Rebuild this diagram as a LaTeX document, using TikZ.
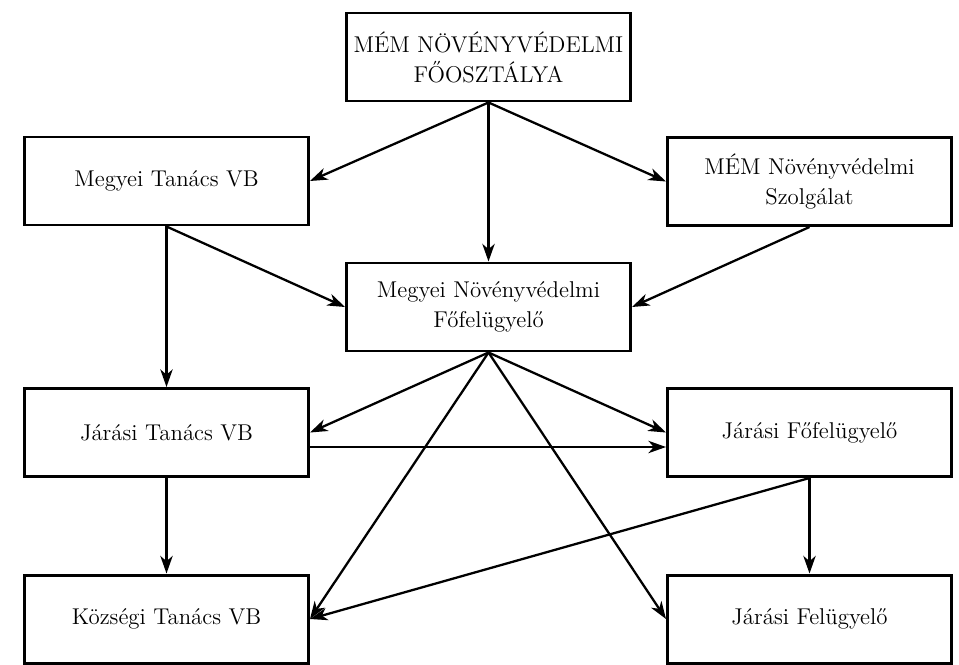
\documentclass[tikz,border=0pt]{standalone}
\usepackage{tikz}
\usetikzlibrary{arrows.meta}

\begin{document}
\begin{tikzpicture}[
    office/.style={draw=black,line width=1.7pt,minimum width=5.68cm,minimum height=1.76cm,
                   inner sep=0pt,align=center,fill=white,font=\fontsize{13}{17}\selectfont},
    link/.style={line width=1.3pt,-{Stealth[length=10pt,width=7pt,inset=3pt]}}
  ]
    \useasboundingbox (0,0) rectangle (19.18,-13.28);
    \node[office] (main) at (9.77,-1.14) {MÉM NÖVÉNYVÉDELMI\\FŐOSZTÁLYA};
    \node[office] (mtvb) at (3.33,-3.62) {Megyei Tanács VB};
    \node[office] (szolg) at (16.19,-3.63) {MÉM Növényvédelmi\\Szolgálat};
    \node[office] (mfofel) at (9.77,-6.14) {Megyei Növényvédelmi\\Főfelügyelő};
    \node[office] (jtvb) at (3.33,-8.65) {Járási Tanács VB};
    \node[office] (jfofel) at (16.19,-8.65) {Járási Főfelügyelő};
    \node[office] (ktvb) at (3.33,-12.38) {Községi Tanács VB};
    \node[office] (jfel) at (16.19,-12.38) {Járási Felügyelő};
    \foreach \x in {mtvb.east,szolg.west,mfofel.north} \draw[link] (main.south)--(\x);
    \foreach \x in {mfofel.west,jtvb.north} \draw[link] (mtvb.south)--(\x);
    \draw[link] (szolg.south)--(mfofel.east);
    \foreach \x in {jtvb.east,jfofel.west,ktvb.east,jfel.west} \draw[link] (mfofel.south)--(\x);
    \draw[link] ([yshift=-0.29cm]jtvb.east)--([yshift=-0.29cm]jfofel.west);
    \draw[link] (jtvb.south)--(ktvb.north);
    \draw[link] (jfofel.south)--(jfel.north);
    \draw[link] (jfofel.south)--(ktvb.east);
  \end{tikzpicture}
\end{document}
